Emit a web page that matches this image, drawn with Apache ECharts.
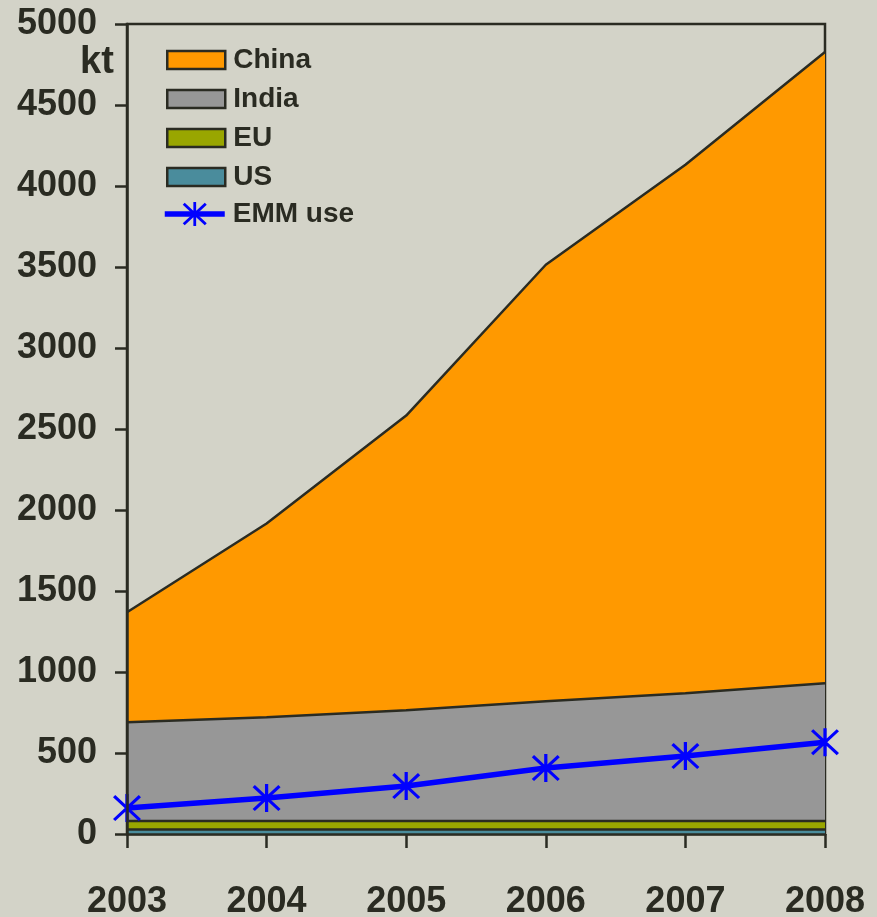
<!DOCTYPE html>
<html>
<head>
<meta charset="UTF-8">
<title>EMM</title>
<script src="https://cdn.jsdelivr.net/npm/echarts@6/dist/echarts.min.js"></script>
<style>
  html, body { margin: 0; padding: 0; background: #d3d3c8; }
  #chart { width: 877px; height: 917px; }
</style>
</head>
<body>
<div id="chart"></div>
<script>
// data (kt)
var years = ['2003', '2004', '2005', '2006', '2007', '2008'];
var usVals = [28, 28, 28, 28, 28, 28];
var euVals = [52, 52, 52, 52, 52, 52];
var indiaVals = [610, 641, 684, 740, 789, 851];
var chinaVals = [679, 1196, 1819, 2694, 3262, 3896];
var emmUse = [160, 222, 296, 407, 481, 567];

var ink = '#2a2b22';
var font = '"Liberation Sans", Arial, sans-serif';
// asterisk marker (vertical bar + two diagonals)
var star = 'path://M-1.5,-14L1.5,-14L1.5,14L-1.5,14Z M-10.9,-13L13,10.9L10.9,13L-13,-10.9Z M10.9,-13L13,-10.9L-10.9,13L-13,10.9Z';

var chart = echarts.init(document.getElementById('chart'));

function area(name, vals, color) {
  return {
    name: name,
    type: 'line',
    stack: 'total',
    data: vals,
    symbol: 'none',
    lineStyle: { color: ink, width: 2.5 },
    areaStyle: { color: color, opacity: 1 },
    itemStyle: { color: color },
    z: 2
  };
}

var legendText = { fontFamily: font, fontWeight: 'bold', fontSize: 28, color: ink, padding: [0, 0, 0, 3] };
var boxStyle = { borderColor: ink, borderWidth: 2.5 };

chart.setOption({
  backgroundColor: '#d3d3c8',
  animation: false,
  grid: {
    left: 127, right: 52, top: 24, bottom: 83,
    outerBoundsMode: 'none',
    show: true, borderColor: ink, borderWidth: 2.5
  },
  legend: [{
    orient: 'vertical',
    left: 166, top: 46, padding: 0,
    itemWidth: 58, itemHeight: 18, itemGap: 11,
    textStyle: legendText,
    data: [
      { name: 'China', icon: 'rect', itemStyle: boxStyle },
      { name: 'India', icon: 'rect', itemStyle: boxStyle },
      { name: 'EU', icon: 'rect', itemStyle: boxStyle },
      { name: 'US', icon: 'rect', itemStyle: boxStyle }
    ]
  }, {
    orient: 'vertical',
    left: 162, top: 200, padding: 0,
    itemWidth: 60, itemHeight: 30,
    textStyle: legendText,
    data: [{ name: 'EMM use', lineStyle: { width: 5.5 } }]
  }],
  graphic: [{
    type: 'text', left: 80, top: 44,
    style: { text: 'kt', font: 'bold 38px ' + font, fill: ink }
  }],
  xAxis: {
    type: 'category',
    data: years,
    boundaryGap: false,
    axisLine: { lineStyle: { color: ink, width: 2.5 } },
    axisTick: { length: 14, lineStyle: { color: ink, width: 2.5 } },
    axisLabel: { margin: 50, fontFamily: font, fontWeight: 'bold', fontSize: 36, color: ink },
    splitLine: { show: false },
    z: 5
  },
  yAxis: {
    type: 'value',
    min: 0, max: 5000, interval: 500,
    axisLine: { show: true, lineStyle: { color: ink, width: 2.5 } },
    axisTick: { show: true, length: 12, lineStyle: { color: ink, width: 2.5 } },
    axisLabel: {
      margin: 30, fontFamily: font, fontWeight: 'bold', fontSize: 36, color: ink,
      formatter: function (v) { return String(v); }
    },
    splitLine: { show: false },
    z: 5
  },
  series: [
    area('US', usVals, '#4a8c9c'),
    area('EU', euVals, '#99a600'),
    area('India', indiaVals, '#979797'),
    area('China', chinaVals, '#ff9900'),
    {
      name: 'EMM use',
      type: 'line',
      data: emmUse,
      symbol: star,
      symbolSize: 28,
      lineStyle: { color: '#0000ff', width: 5.5 },
      itemStyle: { color: '#0000ff' },
      z: 4
    }
  ]
});
</script>
</body>
</html>
